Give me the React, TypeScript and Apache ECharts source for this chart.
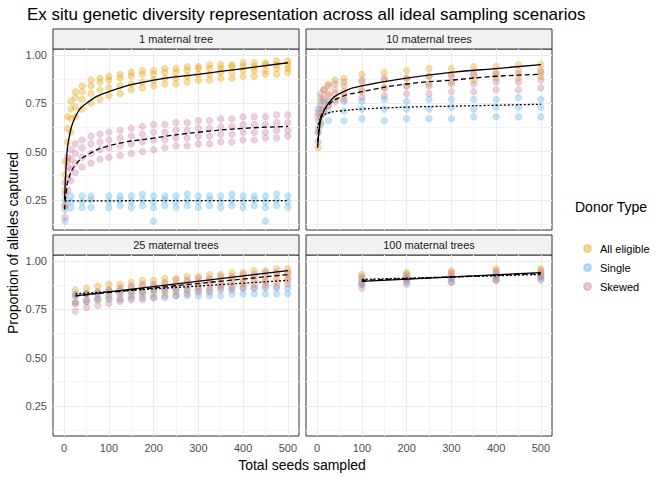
import React, { useRef, useEffect } from 'react'
import * as echarts from 'echarts'

// Rows: [seeds, y1, y2, ...]
const tlOrange = [
  [2, 0.22, 0.3, 0.38, 0.45], [8, 0.45, 0.55, 0.62, 0.68], [15, 0.6, 0.67, 0.72, 0.76],
  [25, 0.68, 0.73, 0.78, 0.81], [40, 0.72, 0.77, 0.81, 0.84], [60, 0.75, 0.8, 0.84, 0.87],
  [80, 0.77, 0.82, 0.86, 0.88], [100, 0.79, 0.83, 0.87, 0.89], [125, 0.8, 0.84, 0.88, 0.9],
  [150, 0.82, 0.85, 0.89, 0.91], [175, 0.83, 0.86, 0.9, 0.92], [200, 0.84, 0.87, 0.9, 0.92],
  [225, 0.85, 0.88, 0.91, 0.93], [250, 0.85, 0.88, 0.91, 0.93], [275, 0.86, 0.89, 0.92, 0.94],
  [300, 0.87, 0.9, 0.93, 0.94], [325, 0.87, 0.9, 0.93, 0.95], [350, 0.88, 0.91, 0.93, 0.95],
  [375, 0.88, 0.91, 0.94, 0.95], [400, 0.89, 0.92, 0.94, 0.96], [425, 0.89, 0.92, 0.94, 0.96],
  [450, 0.9, 0.92, 0.95, 0.96], [475, 0.9, 0.93, 0.95, 0.97], [500, 0.91, 0.93, 0.95, 0.97],
]
const tlPink = [
  [2, 0.16, 0.22, 0.28, 0.34], [8, 0.3, 0.36, 0.42, 0.47], [15, 0.35, 0.41, 0.46, 0.51],
  [25, 0.39, 0.44, 0.49, 0.54], [40, 0.42, 0.47, 0.52, 0.56], [60, 0.44, 0.49, 0.54, 0.58],
  [80, 0.46, 0.51, 0.55, 0.59], [100, 0.47, 0.52, 0.56, 0.6], [125, 0.48, 0.53, 0.57, 0.61],
  [150, 0.49, 0.54, 0.58, 0.62], [175, 0.5, 0.55, 0.59, 0.63], [200, 0.51, 0.56, 0.6, 0.64],
  [225, 0.52, 0.56, 0.6, 0.64], [250, 0.53, 0.57, 0.61, 0.65], [275, 0.53, 0.57, 0.61, 0.65],
  [300, 0.54, 0.58, 0.62, 0.66], [325, 0.54, 0.58, 0.62, 0.66], [350, 0.55, 0.59, 0.63, 0.67],
  [375, 0.55, 0.59, 0.63, 0.67], [400, 0.56, 0.6, 0.64, 0.68], [425, 0.56, 0.6, 0.64, 0.68],
  [450, 0.57, 0.6, 0.64, 0.68], [475, 0.57, 0.61, 0.65, 0.69], [500, 0.58, 0.61, 0.65, 0.69],
]
const tlBlue = [
  [2, 0.14, 0.2, 0.25], [15, 0.21, 0.24, 0.27], [40, 0.21, 0.24, 0.27], [60, 0.21, 0.25, 0.27],
  [100, 0.21, 0.24, 0.27], [125, 0.22, 0.25, 0.27], [150, 0.21, 0.24, 0.27], [175, 0.22, 0.25, 0.28],
  [200, 0.14, 0.21, 0.24, 0.27], [225, 0.22, 0.25, 0.27], [250, 0.21, 0.24, 0.27], [275, 0.22, 0.25, 0.28],
  [300, 0.21, 0.24, 0.27], [325, 0.22, 0.25, 0.27], [350, 0.21, 0.24, 0.27], [375, 0.22, 0.25, 0.28],
  [400, 0.21, 0.24, 0.27], [425, 0.22, 0.25, 0.27], [450, 0.14, 0.21, 0.24, 0.27], [475, 0.22, 0.25, 0.28],
  [500, 0.21, 0.24, 0.27],
]
const trOrange = [
  [2, 0.52, 0.6, 0.68], [8, 0.65, 0.72, 0.78], [15, 0.7, 0.76, 0.82], [25, 0.74, 0.8, 0.85],
  [40, 0.77, 0.82, 0.87], [60, 0.79, 0.84, 0.88], [100, 0.81, 0.86, 0.9], [150, 0.83, 0.87, 0.91],
  [200, 0.84, 0.88, 0.92], [250, 0.85, 0.89, 0.93], [300, 0.86, 0.9, 0.93], [350, 0.87, 0.9, 0.94],
  [400, 0.88, 0.91, 0.94], [450, 0.88, 0.92, 0.95], [500, 0.89, 0.92, 0.95],
]
const trPink = [
  [2, 0.55, 0.62, 0.7], [8, 0.68, 0.74, 0.8], [15, 0.72, 0.77, 0.82], [25, 0.74, 0.79, 0.84],
  [40, 0.76, 0.8, 0.85], [60, 0.77, 0.81, 0.86], [100, 0.78, 0.82, 0.87], [150, 0.79, 0.83, 0.88],
  [200, 0.8, 0.84, 0.88], [250, 0.8, 0.84, 0.89], [300, 0.81, 0.85, 0.89], [350, 0.81, 0.85, 0.9],
  [400, 0.82, 0.86, 0.9], [450, 0.82, 0.86, 0.9], [500, 0.83, 0.87, 0.91],
]
const trBlue = [
  [2, 0.6, 0.66, 0.72], [8, 0.64, 0.7, 0.76], [25, 0.66, 0.71, 0.76], [60, 0.66, 0.71, 0.76],
  [100, 0.67, 0.72, 0.76], [150, 0.66, 0.72, 0.77], [200, 0.67, 0.72, 0.76], [250, 0.67, 0.72, 0.77],
  [300, 0.67, 0.73, 0.77], [350, 0.68, 0.72, 0.77], [400, 0.68, 0.73, 0.77], [450, 0.68, 0.73, 0.78],
  [500, 0.68, 0.73, 0.77],
]
const blOrange = [
  [25, 0.78, 0.82, 0.85], [50, 0.79, 0.83, 0.86], [75, 0.8, 0.84, 0.87], [100, 0.81, 0.85, 0.88],
  [125, 0.81, 0.85, 0.88], [150, 0.82, 0.86, 0.89], [175, 0.83, 0.87, 0.9], [200, 0.83, 0.87, 0.9],
  [225, 0.84, 0.88, 0.91], [250, 0.84, 0.88, 0.91], [275, 0.85, 0.89, 0.92], [300, 0.86, 0.89, 0.92],
  [325, 0.86, 0.9, 0.93], [350, 0.87, 0.9, 0.93], [375, 0.87, 0.91, 0.94], [400, 0.88, 0.91, 0.94],
  [425, 0.88, 0.92, 0.95], [450, 0.89, 0.92, 0.95], [475, 0.89, 0.93, 0.96], [500, 0.9, 0.93, 0.96],
]
const blPink = [
  [25, 0.74, 0.78, 0.82], [50, 0.76, 0.8, 0.83], [75, 0.77, 0.81, 0.84], [100, 0.78, 0.82, 0.85],
  [125, 0.79, 0.83, 0.86], [150, 0.8, 0.84, 0.87], [175, 0.8, 0.84, 0.88], [200, 0.81, 0.85, 0.88],
  [225, 0.82, 0.86, 0.89], [250, 0.82, 0.86, 0.9], [275, 0.83, 0.87, 0.9], [300, 0.84, 0.87, 0.91],
  [325, 0.84, 0.88, 0.91], [350, 0.85, 0.88, 0.92], [375, 0.85, 0.89, 0.92], [400, 0.86, 0.89, 0.93],
  [425, 0.86, 0.9, 0.93], [450, 0.87, 0.9, 0.94], [475, 0.87, 0.91, 0.94], [500, 0.88, 0.91, 0.94],
]
const blBlue = [
  [25, 0.79, 0.83], [50, 0.79, 0.83], [75, 0.8, 0.83], [100, 0.8, 0.84], [125, 0.8, 0.84],
  [150, 0.81, 0.84], [175, 0.81, 0.84], [200, 0.81, 0.85], [225, 0.81, 0.85], [250, 0.82, 0.85],
  [275, 0.82, 0.85], [300, 0.82, 0.85], [325, 0.82, 0.85], [350, 0.82, 0.86], [375, 0.83, 0.86],
  [400, 0.83, 0.86], [425, 0.83, 0.86], [450, 0.83, 0.86], [475, 0.83, 0.86], [500, 0.83, 0.86],
]
const brOrange = [
  [100, 0.88, 0.91, 0.93], [200, 0.9, 0.92, 0.94], [300, 0.91, 0.93, 0.95], [400, 0.91, 0.94, 0.96], [500, 0.92, 0.94, 0.96],
]
const brPink = [
  [100, 0.86, 0.89, 0.92], [200, 0.88, 0.91, 0.93], [300, 0.89, 0.92, 0.94], [400, 0.9, 0.93, 0.95], [500, 0.91, 0.93, 0.95],
]
const brBlue = [
  [100, 0.88, 0.9], [200, 0.89, 0.91], [300, 0.89, 0.91], [400, 0.9, 0.92], [500, 0.9, 0.92],
]

// fitted curves
const fitX = [1, 5, 10, 25, 50, 100, 200, 300, 400, 500]
const tlAll = [0.25, 0.45, 0.56, 0.68, 0.75, 0.81, 0.87, 0.9, 0.93, 0.96]
const tlSkew = [0.2, 0.3, 0.36, 0.43, 0.48, 0.53, 0.57, 0.6, 0.62, 0.63]
const tlSingle = [0.245, 0.245, 0.245, 0.245, 0.245, 0.245, 0.246, 0.246, 0.246, 0.246]
const trAll = [0.52, 0.62, 0.68, 0.75, 0.8, 0.84, 0.88, 0.91, 0.93, 0.95]
const trSkew = [0.55, 0.64, 0.69, 0.74, 0.78, 0.81, 0.85, 0.87, 0.89, 0.9]
const trSingle = [0.62, 0.66, 0.68, 0.7, 0.71, 0.72, 0.73, 0.735, 0.74, 0.745]
const linX = [25, 500]
const blAll = [0.82, 0.95]
const blSkew = [0.82, 0.93]
const blSingle = [0.83, 0.9]
const brX = [100, 500]
const brAll = [0.895, 0.94]
const brSkew = [0.9, 0.935]
const brSingle = [0.905, 0.93]

const panelTitles = ['1 maternal tree', '10 maternal trees', '25 maternal trees', '100 maternal trees']
const groups = ['All eligible', 'Single', 'Skewed']
const colors = ['#E69F00', '#56B4E9', '#CC79A7']

const FONT = 'Liberation Sans, Arial, sans-serif'
const panels = [
  { left: 53, top: 49, w: 246, h: 181 },
  { left: 306, top: 49, w: 246, h: 181 },
  { left: 53, top: 255, w: 246, h: 181 },
  { left: 306, top: 255, w: 246, h: 181 },
]

const toPoints = (rows: number[][]) => rows.flatMap(r => r.slice(1).map(y => [r[0], y]))
const zip = (xs: number[], ys: number[]) => xs.map((x, i) => [x, ys[i]])

const App: React.FC = () => {
  const chartRef = useRef<HTMLDivElement>(null)

  useEffect(() => {
    document.body.style.margin = '0'
    if (!chartRef.current) return
    const chart = echarts.init(chartRef.current, undefined, { renderer: 'svg' })

    const scatterSets = [
      [tlOrange, tlBlue, tlPink],
      [trOrange, trBlue, trPink],
      [blOrange, blBlue, blPink],
      [brOrange, brBlue, brPink],
    ]
    const fits = [
      { x: fitX, ys: [tlAll, tlSingle, tlSkew] },
      { x: fitX, ys: [trAll, trSingle, trSkew] },
      { x: linX, ys: [blAll, blSingle, blSkew] },
      { x: brX, ys: [brAll, brSingle, brSkew] },
    ]
    const lineTypes: any[] = ['solid', [2, 2], [5, 3]]

    const series: any[] = []
    scatterSets.forEach((sets, p) => {
      sets.forEach((rows, g) => {
        series.push({
          name: groups[g], type: 'scatter', xAxisIndex: p, yAxisIndex: p,
          data: toPoints(rows), symbolSize: 6.5,
          itemStyle: { color: colors[g], opacity: 0.35, borderColor: colors[g], borderWidth: 0.8 },
        })
      })
    })
    fits.forEach((f, p) => {
      f.ys.forEach((ys, g) => {
        series.push({
          type: 'line', xAxisIndex: p, yAxisIndex: p, data: zip(f.x, ys),
          smooth: true, symbol: 'none', silent: true,
          lineStyle: { color: '#000', width: 1.3, type: lineTypes[g] },
        })
      })
    })

    const graphic: any[] = [
      { type: 'text', left: 27, top: 6, style: { text: 'Ex situ genetic diversity representation across all ideal sampling scenarios', fontSize: 17, fontFamily: FONT, fill: '#000' } },
      { type: 'text', x: 302, y: 458, style: { text: 'Total seeds sampled', fontSize: 14, fontFamily: FONT, fill: '#000', align: 'center' } },
      { type: 'text', x: 6, y: 243, rotation: Math.PI / 2, style: { text: 'Proportion of alleles captured', fontSize: 14, fontFamily: FONT, fill: '#000', align: 'center', verticalAlign: 'top' } },
      { type: 'text', x: 575, y: 200, style: { text: 'Donor Type', fontSize: 14, fontFamily: FONT, fill: '#000' } },
    ]
    panels.forEach((p, i) => {
      graphic.push({ type: 'rect', shape: { x: p.left, y: p.top - 20, width: p.w, height: 20 }, style: { fill: '#F2F2F2', stroke: '#333', lineWidth: 1 } })
      graphic.push({ type: 'text', x: p.left + p.w / 2, y: p.top - 10, style: { text: panelTitles[i], fontSize: 11, fontFamily: FONT, fill: '#1a1a1a', align: 'center', verticalAlign: 'middle' } })
    })

    const option = {
      animation: false,
      backgroundColor: '#fff',
      grid: panels.map(p => ({ left: p.left, top: p.top, width: p.w, height: p.h, show: true, borderColor: '#333', borderWidth: 1, backgroundColor: '#fff' })),
      xAxis: panels.map((_, i) => ({
        type: 'value', gridIndex: i, min: -25, max: 525, interval: 25,
        axisLine: { show: false }, axisTick: { show: false },
        axisLabel: {
          show: i >= 2, color: '#4d4d4d', fontSize: 11, fontFamily: FONT, margin: 6,
          formatter: (v: number) => (v >= 0 && Math.round(v) % 100 === 0 ? String(Math.round(v)) : ''),
        },
        splitLine: { lineStyle: { color: ['rgba(0,0,0,0)', '#EBEBEB', 'rgba(0,0,0,0)', '#F5F5F5'], width: 1 } },
      })),
      yAxis: panels.map((_, i) => ({
        type: 'value', gridIndex: i, min: 0.09375, max: 1.03125, interval: 0.03125,
        axisLine: { show: false }, axisTick: { show: false },
        axisLabel: {
          show: i % 2 === 0, color: '#4d4d4d', fontSize: 11, fontFamily: FONT, margin: 6,
          formatter: (v: number) => (Math.abs(v * 4 - Math.round(v * 4)) < 1e-6 && v > 0.2 ? v.toFixed(2) : ''),
        },
        splitLine: {
          lineStyle: {
            color: ['rgba(0,0,0,0)', '#F5F5F5', 'rgba(0,0,0,0)', 'rgba(0,0,0,0)', 'rgba(0,0,0,0)', '#EBEBEB', 'rgba(0,0,0,0)', 'rgba(0,0,0,0)'],
            width: 1,
          },
        },
      })),
      legend: {
        data: groups, orient: 'vertical', left: 578, top: 238, itemGap: 8,
        icon: 'circle', itemWidth: 7, itemHeight: 7,
        itemStyle: { opacity: 0.4 },
        textStyle: { fontSize: 11, fontFamily: FONT, color: '#000', padding: [0, 0, 0, 4] },
      },
      graphic,
      series,
    }

    chart.setOption(option)
    return () => chart.dispose()
  }, [])

  return <div ref={chartRef} style={{ width: 672, height: 480 }} />
}

export default App
